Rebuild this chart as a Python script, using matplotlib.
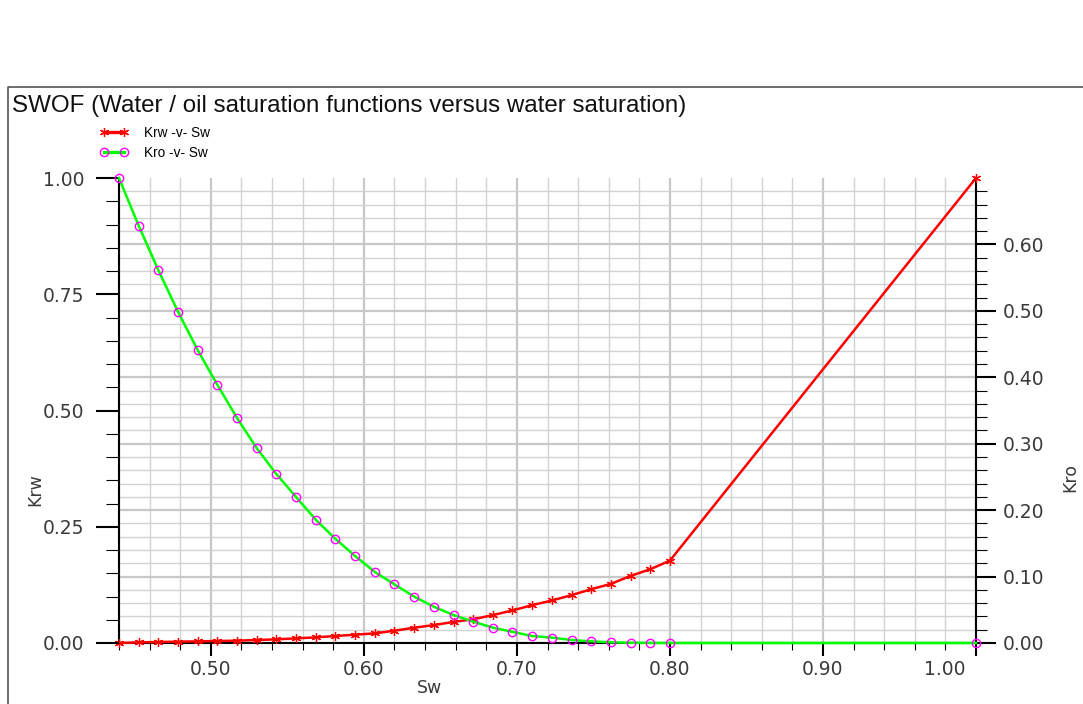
import numpy as np
import matplotlib.pyplot as plt
from matplotlib.ticker import MultipleLocator, FixedLocator, FormatStrFormatter, FuncFormatter
from matplotlib.lines import Line2D
from matplotlib.legend_handler import HandlerLine2D
from matplotlib.transforms import offset_copy

# ---- data
sw = [0.44, 0.4529, 0.4657, 0.4786, 0.4914, 0.5043, 0.5171, 0.53, 0.5429, 0.5557,
      0.5686, 0.5814, 0.5943, 0.6071, 0.62, 0.6329, 0.6457, 0.6586, 0.6714, 0.6843,
      0.6971, 0.71, 0.7229, 0.7357, 0.7486, 0.7614, 0.7743, 0.7871, 0.80, 1.00]

# red curve (right hand scale, 0 - 0.70)
krw = [0.0, 0.001, 0.0015, 0.002, 0.0025, 0.003, 0.0035, 0.0045, 0.0055, 0.007,
       0.0085, 0.0105, 0.0125, 0.0145, 0.0185, 0.023, 0.027, 0.0317, 0.0357, 0.042,
       0.049, 0.057, 0.064, 0.072, 0.081, 0.089, 0.101, 0.111, 0.124, 0.70]

# green curve (left hand scale, 0 - 1.00)
kro = [1.0, 0.897, 0.802, 0.712, 0.630, 0.555, 0.484, 0.419, 0.363, 0.314,
       0.265, 0.224, 0.187, 0.153, 0.126, 0.0996, 0.078, 0.060, 0.046, 0.033,
       0.024, 0.015, 0.0115, 0.0065, 0.0035, 0.0015, 0.0006, 0.0002, 0.0, 0.0]

title = 'SWOF (Water / oil saturation functions versus water saturation)'
labels = ['Krw -v- Sw', 'Kro -v- Sw']

W, H = 1083, 704
fig = plt.figure(figsize=(W / 100, H / 100), dpi=100)
ax = fig.add_axes([119 / W, 61 / H, (976 - 119) / W, (643 - 178) / H])

tick_font = 'DejaVu Sans'
tick_col = '#3a3a3a'

red_line, = ax.plot(sw, krw, color='#ff0000', lw=1.8, marker=(6, 2, 0), ms=6.5, mew=0.9,
                    mec='#ff0000', clip_on=False, zorder=3)
ax2 = ax.twinx()
green_line, = ax2.plot(sw, kro, color='#00ff00', lw=1.8, marker='o', ms=6, mfc='none',
                       mec='#ff00ff', mew=1.0, clip_on=False, zorder=3)

# swap the sides: grid axis on the right, 0-1 axis on the left
ax.yaxis.tick_right()
ax2.yaxis.tick_left()

ax.set_xlim(0.44, 1.00)
ax.set_ylim(0, 0.70)
ax2.set_ylim(0, 1.00)

ax.xaxis.set_major_locator(MultipleLocator(0.1))
ax.xaxis.set_minor_locator(MultipleLocator(0.02))
ax.xaxis.set_major_formatter(FuncFormatter(lambda v, p: '' if v > 0.995 else '%.2f' % v))
ax.yaxis.set_major_locator(FixedLocator(np.arange(0, 0.61, 0.1)))
ax.yaxis.set_minor_locator(FixedLocator(np.arange(0.02, 0.69, 0.02)))
ax.yaxis.set_major_formatter(FormatStrFormatter('%.2f'))
ax2.yaxis.set_major_locator(MultipleLocator(0.25))
ax2.yaxis.set_minor_locator(MultipleLocator(0.05))
ax2.yaxis.set_major_formatter(FormatStrFormatter('%.2f'))

ax.grid(which='major', color='#c8c8c8', lw=1.6)
ax.grid(which='minor', color='#d2d2d2', lw=1.0)
ax.set_axisbelow(True)

ax.tick_params(axis='y', which='major', right=True, left=False, length=14.4, width=1.5,
               pad=4.8, labelsize=13.5, labelcolor=tick_col)
ax.tick_params(axis='y', which='minor', right=True, left=False, length=7.7, width=0.8)
ax.tick_params(axis='x', which='major', length=9.6, width=1.5, pad=2.4,
               labelsize=13.5, labelcolor=tick_col)
ax.tick_params(axis='x', which='minor', length=4.8, width=0.8)
ax2.tick_params(axis='y', which='major', left=True, right=False, length=16.3, width=1.5,
                pad=8.4, labelsize=13.5, labelcolor=tick_col)
ax2.tick_params(axis='y', which='minor', left=True, right=False, length=9.1, width=0.8)

for s in ['left', 'right', 'bottom']:
    ax.spines[s].set_linewidth(1.5)
ax.spines['top'].set_visible(False)
for s in ax2.spines.values():
    s.set_visible(False)

# last x label sits left of its tick
ax.text(1.0, 0, '1.00', ha='center', va='top', fontsize=13.5, color=tick_col, family=tick_font,
        transform=offset_copy(ax.get_xaxis_transform(), fig, x=-31, y=-17, units='dots'))

fig.text(430 / W, 1 - 688 / H, 'Sw', ha='center', va='center', fontsize=12.5, color=tick_col)
fig.text(35 / W, 1 - 490 / H, 'Krw', ha='center', va='center', rotation=90, fontsize=12.5, color=tick_col)
fig.text(1070 / W, 1 - 478 / H, 'Kro', ha='center', va='center', rotation=90, fontsize=12.5, color=tick_col)

fig.text(12 / W, 1 - 106 / H, title, ha='left', va='center', fontsize=17.4,
         family='Liberation Sans', color='#111111')

hm = HandlerLine2D(numpoints=2, marker_pad=1.25)
leg = fig.legend(handles=[red_line, green_line], labels=labels,
                 handler_map={red_line: hm, green_line: hm},
                 loc='upper left', bbox_to_anchor=(87 / W, 1 - 126 / H), frameon=False,
                 prop={'family': 'Liberation Sans', 'size': 9.8}, handlelength=4.0,
                 handletextpad=0.2, labelspacing=0.42, borderpad=0, borderaxespad=0)
for ln in leg.get_lines():
    ln.set_linewidth(2.4)

# window frame of the screenshot
fig.add_artist(Line2D([8 / W, 8 / W, 1.0], [0.0, 1 - 87 / H, 1 - 87 / H],
                      transform=fig.transFigure, color='#555555', lw=1.2))

fig.savefig('out.png', dpi=100)
